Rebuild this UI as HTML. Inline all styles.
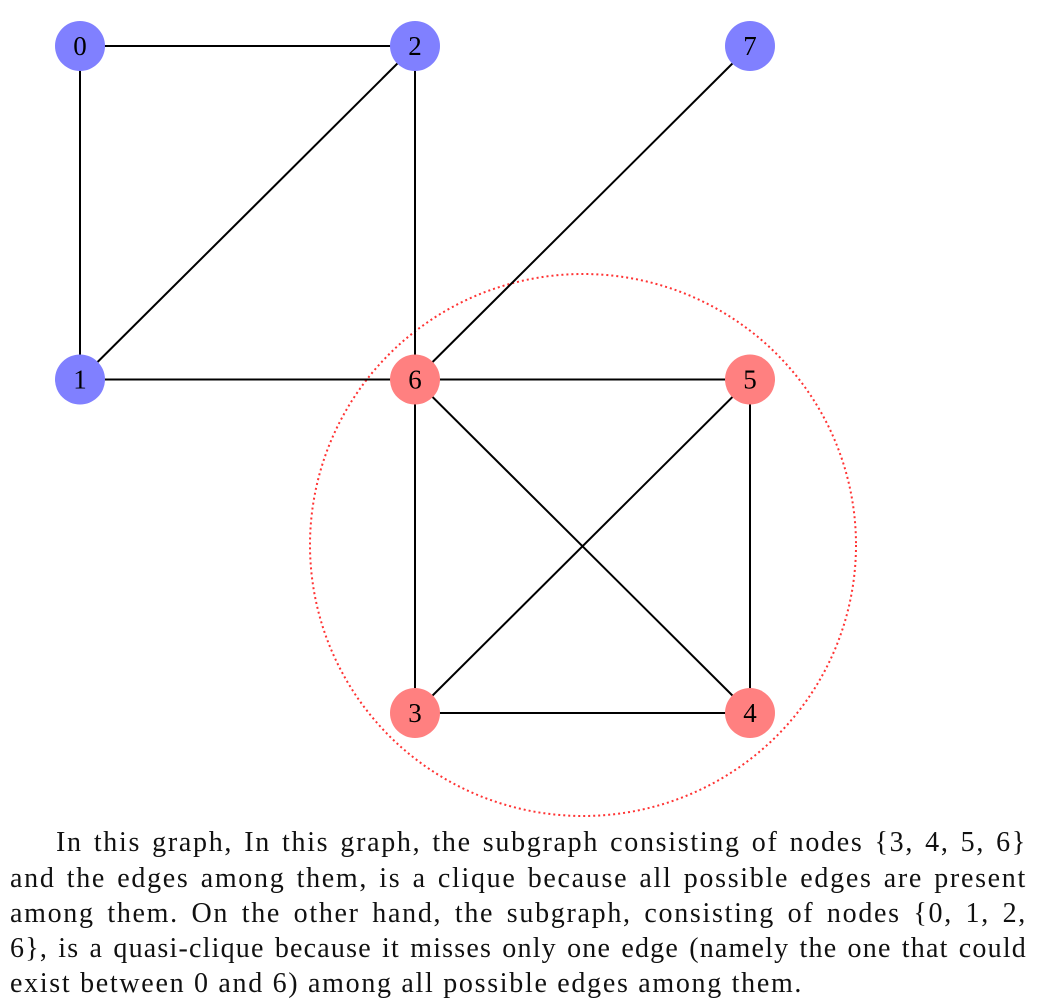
<!DOCTYPE html>
<html><head><meta charset="utf-8"><style>
body{margin:0;width:1043px;height:1005px;background:#fff;overflow:hidden;position:relative}
svg{position:absolute;left:0;top:0}
.ln{position:absolute;left:10px;width:1017px;font-family:"Liberation Serif",serif;font-size:28px;letter-spacing:1.7px;line-height:30px;text-align:justify;text-align-last:justify;white-space:nowrap;color:#111}
</style></head><body>
<svg width="1043" height="820" id="g"></svg>
<div class="ln" style="top:828px;left:56px;width:971px">In this graph, In this graph, the subgraph consisting of nodes {3, 4, 5, 6}</div>
<div class="ln" style="top:864px">and the edges among them, is a clique because all possible edges are present</div>
<div class="ln" style="top:899px">among them. On the other hand, the subgraph, consisting of nodes {0, 1, 2,</div>
<div class="ln" style="top:934px;letter-spacing:1.2px">6}, is a quasi-clique because it misses only one edge (namely the one that could</div>
<div class="ln" style="top:969px;text-align-last:left">exist between 0 and 6) among all possible edges among them.</div>
<script>
const nodeIds=["0","2","7","1","6","5","3","4"];
const nodeX=[0,1,2,0,1,2,1,2];
const nodeY=[0,0,0,1,1,1,2,2];
const nodeGroup=["q","q","o","q","c","c","c","c"];
const edgeFrom=["0","0","2","2","1","7","6","6","6","5","5","3"];
const edgeTo=["2","1","1","6","6","6","5","3","4","3","4","4"];
const sx=i=>80+i*335, sy=j=>46+j*333.5;
const svg=document.getElementById('g');const NS="http://www.w3.org/2000/svg";
const idx=id=>nodeIds.indexOf(id);
const circ=document.createElementNS(NS,'ellipse');


circ.setAttribute('cx',583);circ.setAttribute('cy',545);circ.setAttribute('rx',273);circ.setAttribute('ry',271);
circ.setAttribute('fill','none');circ.setAttribute('stroke','#f33');circ.setAttribute('stroke-width','2');circ.setAttribute('stroke-dasharray','2 3');
svg.appendChild(circ);
edgeFrom.forEach((f,k)=>{const a=idx(f),b=idx(edgeTo[k]);const l=document.createElementNS(NS,'line');


l.setAttribute('x1',sx(nodeX[a]));l.setAttribute('y1',sy(nodeY[a]));l.setAttribute('x2',sx(nodeX[b]));l.setAttribute('y2',sy(nodeY[b]));
l.setAttribute('stroke','#000');l.setAttribute('stroke-width','2');svg.appendChild(l);});
nodeIds.forEach((id,i)=>{const c=document.createElementNS(NS,'circle');


c.setAttribute('cx',sx(nodeX[i]));c.setAttribute('cy',sy(nodeY[i]));c.setAttribute('r',25);
c.setAttribute('fill',nodeGroup[i]==='c'?'#ff8080':'#8080ff');svg.appendChild(c);
const t=document.createElementNS(NS,'text');


t.setAttribute('x',sx(nodeX[i]));t.setAttribute('y',sy(nodeY[i])+9);t.setAttribute('text-anchor','middle');
t.setAttribute('font-family','Liberation Serif, serif');t.setAttribute('font-size','27');t.textContent=id;svg.appendChild(t);});
</script>
</body></html>
